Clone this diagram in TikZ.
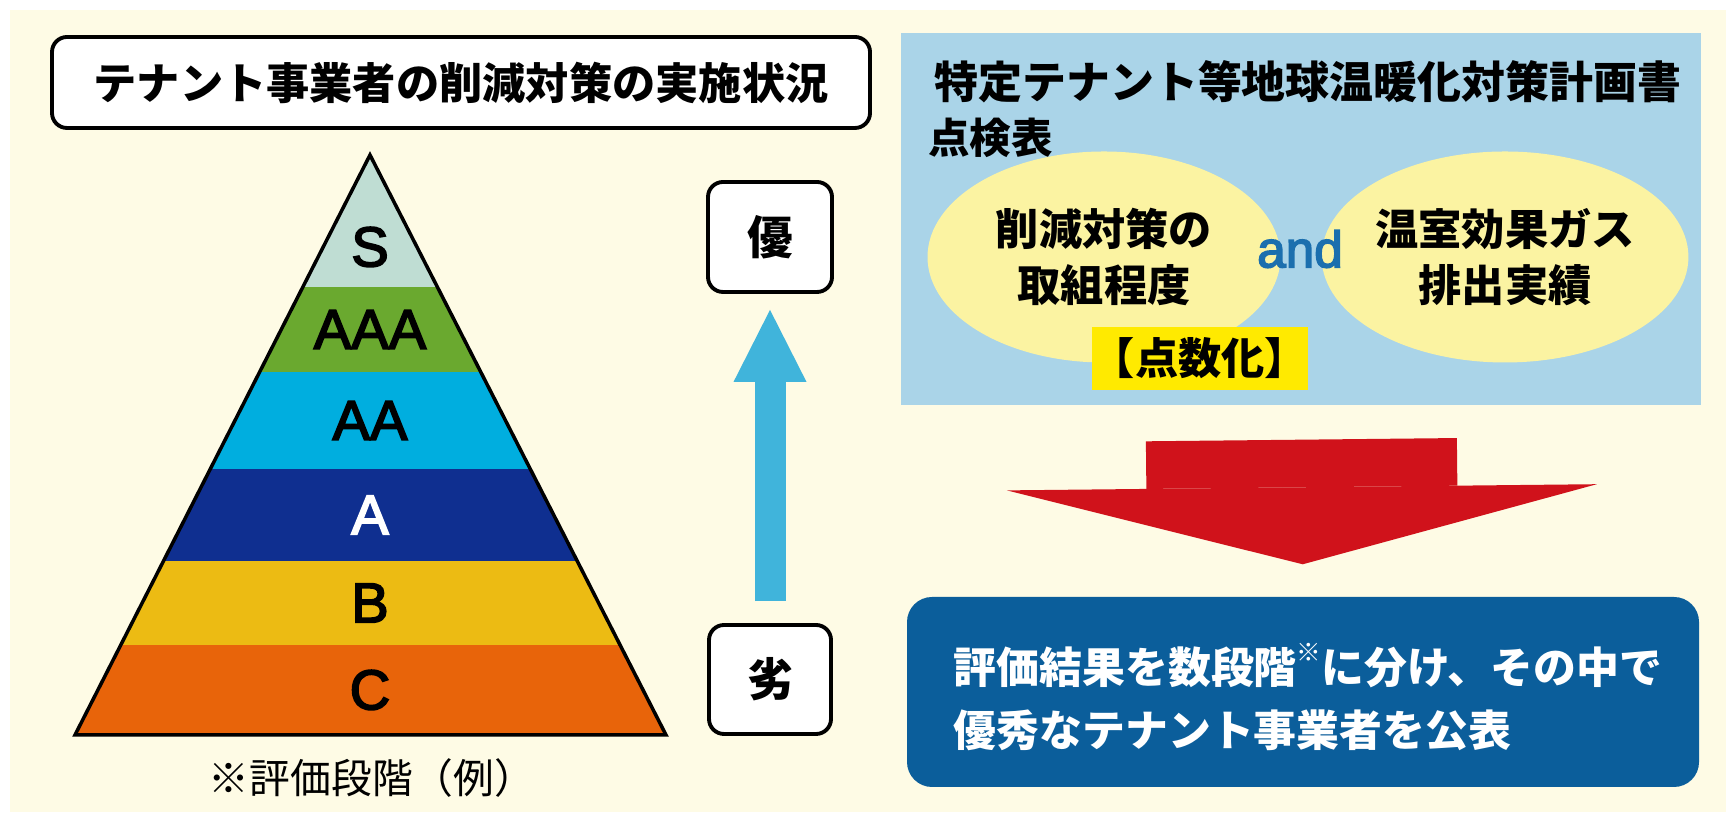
\documentclass[tikz,border=0pt]{standalone}
\usepackage{fontspec}
\setmainfont{Liberation Sans}
\newfontfamily\jp{Noto Sans CJK JP}
\newfontfamily\rankfont[FakeBold=3]{Liberation Sans}
\usetikzlibrary{shapes.geometric, arrows.meta, calc}

\definecolor{creambg}{HTML}{FEFBE5}
\definecolor{panelblue}{HTML}{AAD4E8}
\definecolor{ovalyellow}{HTML}{FBF3A2}
\definecolor{tagyellow}{HTML}{FFEA00}
\definecolor{bigred}{HTML}{D0121B}
\definecolor{resultblue}{HTML}{0B5E9B}
\definecolor{upblue}{HTML}{40B4DB}
\definecolor{andblue}{HTML}{1B6FAE}
\definecolor{rankS}{HTML}{BFDDD3}
\definecolor{rankAAA}{HTML}{6AA92F}
\definecolor{rankAA}{HTML}{00AEDF}
\definecolor{rankA}{HTML}{0F2F90}
\definecolor{rankB}{HTML}{ECBB13}
\definecolor{rankC}{HTML}{E8640A}

\begin{document}
\begin{tikzpicture}[
    jpbold/.style={font=\jp\bfseries\fontsize{12.3}{16}\selectfont},
    framebox/.style={draw=black, line width=1.1pt, fill=white, rounded corners=0.15cm},
    ranklabel/.style={font=\rankfont\fontsize{16}{17}\selectfont},
    oval/.style={ellipse, fill=ovalyellow, minimum width=3.53cm, minimum height=2.11cm,
        inner sep=0pt, align=center, jpbold}
]
    \useasboundingbox (0,0) rectangle (17.36,8.18);

    % Cream background
    \fill[creambg] (0.10,0.06) rectangle (17.26,8.08);

    % Title box
    \node[framebox, minimum width=8.18cm, minimum height=0.91cm, jpbold] (title) at (4.61,7.355) {テナント事業者の削減対策の実施状況};

    % Pyramid bands
    \coordinate (apex) at (3.70,6.63);
    \coordinate (baseL) at (0.75,0.83);
    \coordinate (baseR) at (6.66,0.83);
    \begin{scope}
        \clip (apex) -- (baseR) -- (baseL) -- cycle;
        \fill[rankS] (0.5,5.31) rectangle (7,6.7);
        \fill[rankAAA] (0.5,4.46) rectangle (7,5.31);
        \fill[rankAA] (0.5,3.49) rectangle (7,4.46);
        \fill[rankA] (0.5,2.57) rectangle (7,3.49);
        \fill[rankB] (0.5,1.73) rectangle (7,2.57);
        \fill[rankC] (0.5,0.8) rectangle (7,1.73);
    \end{scope}
    \draw[line width=1pt, line join=miter] (apex) -- (baseR) -- (baseL) -- cycle;

    % Rank labels
    \node[ranklabel] (lS) at (3.70,5.71) {S};
    \node[ranklabel] (lAAA) at (3.70,4.885) {AAA};
    \node[ranklabel] (lAA) at (3.70,3.975) {AA};
    \node[ranklabel, white] (lA) at (3.70,3.03) {A};
    \node[ranklabel] (lB) at (3.70,2.15) {B};
    \node[ranklabel] (lC) at (3.70,1.28) {C};

    % Note under the pyramid
    \node[font=\jp\fontsize{11.6}{14}\selectfont] (note) at (3.72,0.40) {※評価段階（例）};

    % Good / poor scale
    \node[framebox, minimum width=1.24cm, minimum height=1.10cm, jpbold, font=\jp\bfseries\fontsize{13}{14}\selectfont] (good) at (7.70,5.81) {優};
    \node[framebox, minimum width=1.22cm, minimum height=1.09cm, jpbold, font=\jp\bfseries\fontsize{13}{14}\selectfont] (poor) at (7.70,1.385) {劣};
    \draw[upblue, line width=0.31cm, -{Triangle[length=0.72cm, width=0.73cm, line width=0pt]},
        shorten <=0.22cm, shorten >=0.16cm] (poor.north) -- (good.south);

    % Check sheet panel
    \node[fill=panelblue, minimum width=8.00cm, minimum height=3.72cm, inner sep=0pt] (panel) at (13.01,5.99) {};
    \node[jpbold, font=\jp\bfseries\fontsize{12.5}{14}\selectfont, anchor=west] (plan) at (9.22,7.36) {特定テナント等地球温暖化対策計画書};
    \node[jpbold, font=\jp\bfseries\fontsize{11.8}{14}\selectfont, anchor=west] (check) at (9.16,6.80) {点検表};

    % Two evaluation items
    \node[oval] (effort) at (11.04,5.61) {削減対策の\\取組程度};
    \node[oval] (emission) at (15.05,5.61) {温室効果ガス\\排出実績};
    \node[andblue, font=\rankfont\fontsize{14.6}{15}\selectfont] (and) at (13.00,5.69) {and};
    \node[fill=tagyellow, minimum width=2.04cm, minimum height=0.63cm, inner sep=0pt, jpbold] (score) at (12.00,4.595) {【点数化】};

    % Result box
    \node[fill=resultblue, rounded corners=0.25cm, minimum width=7.92cm, minimum height=1.90cm] (result) at (13.03,1.26) {};
    \node[white, anchor=west, align=left, font=\jp\bfseries\fontsize{12.2}{17.9}\selectfont] (resulttext)
        at ([xshift=0.35cm, yshift=-0.05cm]result.west)
        {評価結果を数段階\raisebox{0.5em}{\fontsize{7}{7}\selectfont ※}に分け、その中で\\優秀なテナント事業者を公表};

    % Big red arrow
    \draw[bigred, line width=3.11cm, -{Triangle[length=0.77cm, width=5.90cm, line width=0pt]},
        shorten <=0.34cm, shorten >=0.32cm] (panel.south) -- (result.north);
\end{tikzpicture}
\end{document}
